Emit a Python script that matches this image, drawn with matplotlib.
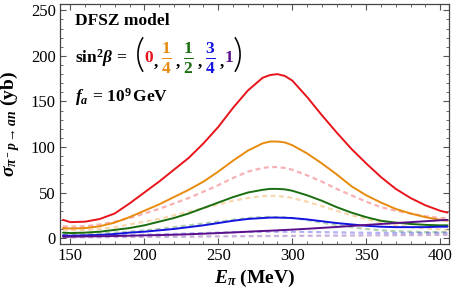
import matplotlib
matplotlib.use("Agg")
import matplotlib.pyplot as plt
from matplotlib.ticker import MultipleLocator

# ---- data ----
E = [145, 150, 160, 170, 180, 190, 200, 210, 220, 230, 240, 250, 260, 270, 280,
     285, 290, 295, 300, 310, 320, 330, 340, 350, 360, 370, 380, 390, 400, 405]

red = [20, 17.5, 18, 21, 27, 38, 50, 62, 75, 88, 104, 122, 143, 162, 176,
       179, 180, 178, 173, 155, 135, 116, 98, 82, 67, 54, 44, 36, 30, 28]
orange = [11, 10.5, 11, 13, 17, 23, 30, 37, 45, 53, 62, 73, 85, 96, 104,
          106, 106, 105, 102, 93, 82, 70, 57, 47, 39, 32, 27, 23, 20, 19]
green = [6, 5.5, 6, 7, 9, 11, 14, 18, 22, 27, 33, 39, 45, 50, 53,
         54, 54, 53.5, 52, 47, 41, 34, 28, 23, 19, 17, 15.5, 14.5, 14, 14]
blue = [3, 2.5, 3, 3.5, 4.5, 6, 7, 8.5, 10, 12, 14, 16.5, 19, 21, 22,
        22.5, 22.5, 22.3, 22, 20.5, 18.5, 16.5, 15, 13.5, 12.5, 12, 12, 12, 12.5, 12.5]
purple = [1.5, 1.5, 1.8, 2, 2.3, 2.6, 3, 3.3, 3.7, 4.2, 4.8, 5.5, 6.2, 7, 7.8,
          8.1, 8.5, 8.9, 9.3, 10.2, 11.2, 12.2, 13.3, 14.4, 15.5, 16.5, 17.5, 18.5, 19.5, 20]

red_d = [13, 12.5, 13, 15, 18, 22, 27, 32, 38, 44, 51, 58, 66, 73, 77,
         78, 78, 77, 75, 69, 62, 54, 47, 40, 34, 30, 27, 24, 22, 22]
orange_d = [9, 8.5, 9, 10, 12, 15, 18, 21, 25, 29, 33, 37, 41, 44, 46,
            46.5, 46, 45.5, 44, 40, 35, 30, 25, 21, 17, 14, 12, 10.5, 9.5, 9]
green_d = [4, 4, 4, 5, 6, 7, 8.5, 10, 12, 14, 16, 18, 20, 22, 23,
           23.2, 23, 22.6, 22, 20, 17, 14.5, 12, 10, 8.5, 7.5, 7, 6.5, 6.5, 6.5]
blue_d = [2.5, 2.5, 2.5, 2.8, 3, 3.3, 3.7, 4, 4.5, 5, 5.5, 6, 6.5, 6.8, 7,
          7, 7, 7, 7, 6.8, 6.5, 6.3, 6, 5.8, 5.7, 5.6, 5.6, 5.7, 5.8, 5.8]
purple_d = [0.8, 0.8, 0.9, 1, 1.1, 1.2, 1.3, 1.4, 1.5, 1.6, 1.8, 1.9, 2, 2.1, 2.2,
            2.25, 2.3, 2.35, 2.4, 2.5, 2.6, 2.7, 2.8, 3, 3.1, 3.2, 3.3, 3.4, 3.5, 3.5]

x_ticks = [150, 200, 250, 300, 350, 400]
y_ticks = [0, 50, 100, 150, 200, 250]

C_RED = "#e8141c"
C_ORANGE = "#e88a0c"
C_GREEN = "#1a6e10"
C_BLUE = "#1414e0"
C_PURPLE = "#5a108a"

SERIF = "Liberation Serif"
plt.rcParams["mathtext.fontset"] = "custom"
plt.rcParams["mathtext.rm"] = SERIF
plt.rcParams["mathtext.it"] = SERIF + ":italic"
plt.rcParams["mathtext.bf"] = SERIF + ":bold"
plt.rcParams["mathtext.bfit"] = SERIF + ":bold:italic"
plt.rcParams["font.family"] = [SERIF, "DejaVu Serif"]

W, H = 455, 299
fig = plt.figure(figsize=(W / 100, H / 100), dpi=100)
ax = fig.add_axes([60 / W, 1 - 244 / H, 389 / W, 240 / H])

dashed = [(red_d, C_RED), (orange_d, C_ORANGE), (green_d, C_GREEN),
          (blue_d, C_BLUE), (purple_d, C_PURPLE)]
for ys, c in dashed:
    ax.plot(E, ys, color=c, alpha=0.33, lw=1.6, ls=(0, (2.2, 1.6)))

solid = [(red, C_RED), (orange, C_ORANGE), (green, C_GREEN),
         (blue, C_BLUE), (purple, C_PURPLE)]
for ys, c in solid:
    ax.plot(E, ys, color=c, lw=1.4, solid_capstyle="round", solid_joinstyle="round")

ax.set_xlim(143, 406)
ax.set_ylim(-6.5, 257)
ax.set_xticks(x_ticks)
ax.set_yticks(y_ticks)
ax.xaxis.set_minor_locator(MultipleLocator(10))
ax.yaxis.set_minor_locator(MultipleLocator(10))
ax.tick_params(which="both", direction="in", top=True, right=True,
               color="#555555", labelsize=12, pad=3)
ax.tick_params(which="major", length=4.5, width=0.8)
ax.tick_params(which="minor", length=2.5, width=0.6)
for s in ax.spines.values():
    s.set_color("#444444")
    s.set_linewidth(0.9)

ax.set_xlabel(r"$\mathbfit{E}_{\mathbfit{\pi}}\ \mathbf{(MeV)}$", fontsize=14, labelpad=3)
ax.set_ylabel(r"$\mathbfit{\sigma}_{\mathbfit{\pi^- p\rightarrow an}}\ \mathbf{(yb)}$",
              fontsize=14, labelpad=6)

def ftext(px, py, s, **kw):
    fig.text(px / W, 1 - py / H, s, va="center", **kw)

ftext(75, 21, "DFSZ model", fontsize=12.5, fontweight="bold")
ftext(75, 58, r"$\mathbf{sin^2}\mathbfit{\beta}\mathbf{\,=}$", fontsize=12.5)
ftext(135, 56, "(", fontsize=28, color="black", family=["Lato", "DejaVu Sans"],
      fontweight=300)
ftext(144, 58, r"$\mathbf{0}$", fontsize=12.5, color=C_RED)
ftext(153, 63, r"$\mathbf{,}$", fontsize=12.5)
ftext(166, 58, r"$\frac{\mathbf{1}}{\mathbf{4}}$", fontsize=18, color=C_ORANGE, ha="center")
ftext(175, 63, r"$\mathbf{,}$", fontsize=12.5)
ftext(188, 58, r"$\frac{\mathbf{1}}{\mathbf{2}}$", fontsize=18, color=C_GREEN, ha="center")
ftext(197, 63, r"$\mathbf{,}$", fontsize=12.5)
ftext(210, 58, r"$\frac{\mathbf{3}}{\mathbf{4}}$", fontsize=18, color=C_BLUE, ha="center")
ftext(219, 63, r"$\mathbf{,}$", fontsize=12.5)
ftext(224, 58, r"$\mathbf{1}$", fontsize=12.5, color=C_PURPLE)
ftext(233, 56, ")", fontsize=28, color="black", family=["Lato", "DejaVu Sans"],
      fontweight=300)
ftext(75, 97, r"$\mathbfit{f}_{\mathbfit{a}}\mathbf{\,=\,10^9\,GeV}$", fontsize=12.5)

fig.savefig("out.png", dpi=100)
